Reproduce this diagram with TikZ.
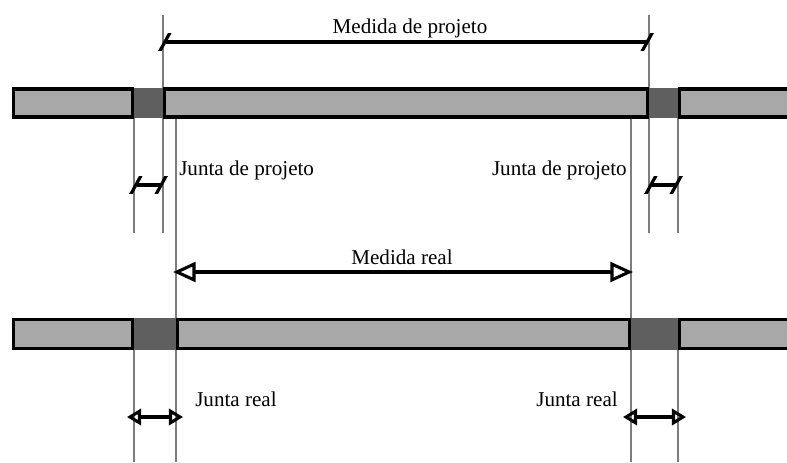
\documentclass[tikz,border=0pt]{standalone}
\usepackage{fontspec}
\setmainfont{Liberation Serif}
\usetikzlibrary{arrows.meta}
\newlength{\du}
\setlength{\du}{0.025cm}
\definecolor{pecacolor}{RGB}{168,168,168}
\definecolor{juntacolor}{RGB}{95,95,95}
\definecolor{guiacolor}{RGB}{125,125,125}
\tikzset{
	peca/.style={draw=black, line width=2.6pt, fill=pecacolor, rectangle, inner sep=0pt, outer sep=0pt},
	junta/.style={fill=juntacolor, rectangle, inner sep=0pt, outer sep=0pt},
	guia/.style={draw=guiacolor, line width=0.8pt},
	cota/.style={line width=2.2pt, {Bar[width=12.5pt,slant=.55,line width=2.6pt]}-{Bar[width=12.5pt,slant=.55,line width=2.6pt]}},
	setagrande/.style={line width=2.2pt, {Triangle[open,length=16pt,width=14pt]}-{Triangle[open,length=16pt,width=14pt]}},
	setapequena/.style={line width=2.2pt, {Triangle[open,length=10pt,width=11.5pt]}-{Triangle[open,length=10pt,width=11.5pt]}},
	rotulo/.style={inner sep=0pt, font=\fontsize{15}{18}\selectfont}
}
\begin{document}
\begin{tikzpicture}[x=\du, y=-\du]
	\useasboundingbox (0,0) rectangle (787,462);
	\clip (0,0) rectangle (787,462);
	% linhas de chamada
	\coordinate (g1a) at (134,118);
	\coordinate (g1b) at (134,233);
	\coordinate (g2a) at (163,15);
	\coordinate (g2b) at (163,233);
	\coordinate (g3a) at (176,118);
	\coordinate (g3b) at (176,462);
	\coordinate (g4a) at (631,118);
	\coordinate (g4b) at (631,462);
	\coordinate (g5a) at (649,15);
	\coordinate (g5b) at (649,233);
	\coordinate (g6a) at (678,118);
	\coordinate (g6b) at (678,233);
	\coordinate (g7a) at (134,350);
	\coordinate (g7b) at (134,462);
	\coordinate (g8a) at (678,350);
	\coordinate (g8b) at (678,462);
	\draw[guia] (g1a) -- (g1b);
	\draw[guia] (g2a) -- (g2b);
	\draw[guia] (g3a) -- (g3b);
	\draw[guia] (g4a) -- (g4b);
	\draw[guia] (g5a) -- (g5b);
	\draw[guia] (g6a) -- (g6b);
	\draw[guia] (g7a) -- (g7b);
	\draw[guia] (g8a) -- (g8b);
	% juntas
	\node[junta, minimum width=29\du, minimum height=30\du] (jA1) at (148.5,103) {};
	\node[junta, minimum width=29\du, minimum height=30\du] (jA2) at (663.5,103) {};
	\node[junta, minimum width=42\du, minimum height=32\du] (jB1) at (155,334) {};
	\node[junta, minimum width=47\du, minimum height=32\du] (jB2) at (654.5,334) {};
	% pecas
	\node[peca, minimum width=119\du, minimum height=28\du] (pA1) at (73,103) {};
	\node[peca, minimum width=483\du, minimum height=28\du] (pA2) at (406,103) {};
	\node[peca, minimum width=121\du, minimum height=28\du] (pA3) at (740,103) {};
	\node[peca, minimum width=119\du, minimum height=29\du] (pB1) at (73,334) {};
	\node[peca, minimum width=452\du, minimum height=29\du] (pB2) at (403.5,334) {};
	\node[peca, minimum width=121\du, minimum height=29\du] (pB3) at (740,334) {};
	% cotas
	\coordinate (mp1) at (163,42);
	\coordinate (mp2) at (649,42);
	\coordinate (jp1) at (134,185);
	\coordinate (jp2) at (163,185);
	\coordinate (jp3) at (649,185);
	\coordinate (jp4) at (678,185);
	\coordinate (mr1) at (176,272);
	\coordinate (mr2) at (631,272);
	\coordinate (jr1) at (134,417);
	\coordinate (jr2) at (176,417);
	\coordinate (jr3) at (631,417);
	\coordinate (jr4) at (678,417);
	\draw[cota] (mp1) -- (mp2);
	\draw[cota] (jp1) -- (jp2);
	\draw[cota] (jp3) -- (jp4);
	\draw[setagrande, shorten <=-2.1pt, shorten >=-1.4pt] (mr1) -- (mr2);
	\draw[setapequena, shorten <=-5pt, shorten >=-5pt] (jr1) -- (jr2);
	\draw[setapequena, shorten <=-5.7pt, shorten >=-5.7pt] (jr3) -- (jr4);
	% textos
	\node[rotulo, anchor=base] (tMP) at (410,33) {Medida de projeto};
	\node[rotulo, anchor=base west] (tJP1) at (179,175) {Junta de projeto};
	\node[rotulo, anchor=base east] (tJP2) at (627,175) {Junta de projeto};
	\node[rotulo, anchor=base] (tMR) at (402,264) {Medida real};
	\node[rotulo, anchor=base west] (tJR1) at (195,406) {Junta real};
	\node[rotulo, anchor=base east] (tJR2) at (618,406) {Junta real};
\end{tikzpicture}
\end{document}
